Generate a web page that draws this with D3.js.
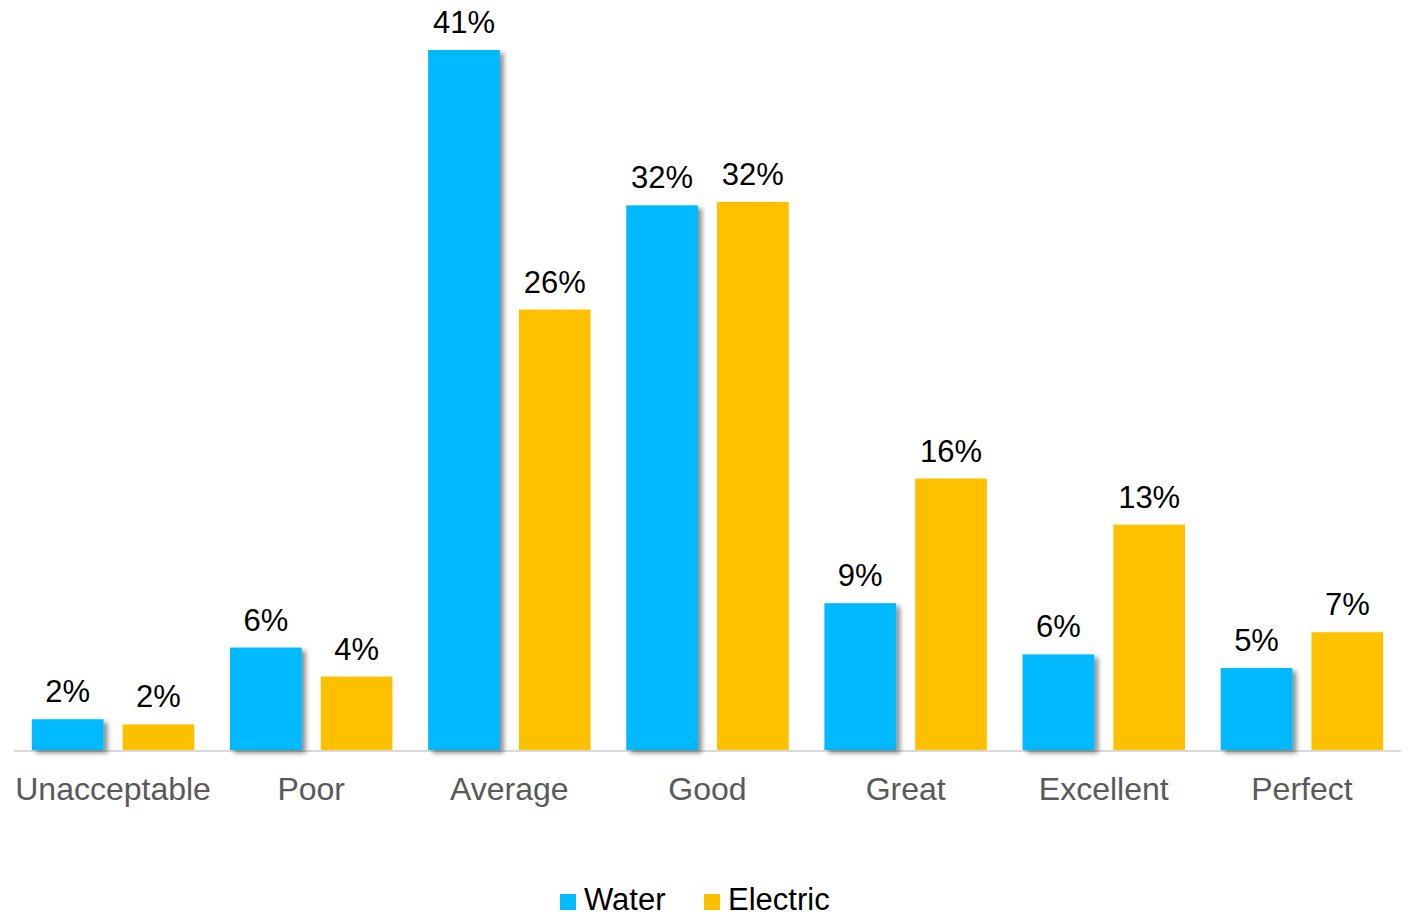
<!DOCTYPE html>
<html>
<head>
<meta charset="utf-8">
<script src="https://cdn.jsdelivr.net/npm/d3@7"></script>
<style>
  body { margin: 0; background: #fff; }
  text { font-family: "Liberation Sans", Arial, sans-serif; }
</style>
</head>
<body>
<div id="chart"></div>
<script>
// data
const categories = ["Unacceptable", "Poor", "Average", "Good", "Great", "Excellent", "Perfect"];
const waterValues = [1.8, 6.0, 41.0, 31.9, 8.6, 5.6, 4.8];
const electricValues = [1.5, 4.3, 25.8, 32.1, 15.9, 13.2, 6.9];
const waterLabels = ["2%", "6%", "41%", "32%", "9%", "6%", "5%"];
const electricLabels = ["2%", "4%", "26%", "32%", "16%", "13%", "7%"];
const seriesNames = ["Water", "Electric"];
const seriesColors = ["#00B9FF", "#FFC000"];

const width = 1411, height = 916;
const margin = {top: 50, right: 10, bottom: 166, left: 14};
const plotW = 1387, plotH = height - margin.top - margin.bottom;

const svg = d3.select("#chart")
  .append("svg")
    .attr("width", width)
    .attr("height", height);

// drop shadow for the water bars
const filter = svg.append("defs").append("filter")
    .attr("id", "shadow")
    .attr("x", "-20%").attr("y", "-20%")
    .attr("width", "150%").attr("height", "150%");
filter.append("feGaussianBlur").attr("in", "SourceAlpha").attr("stdDeviation", 2.5);
filter.append("feOffset").attr("dx", 4).attr("dy", 3).attr("result", "off");
filter.append("feComponentTransfer").append("feFuncA").attr("type", "linear").attr("slope", 0.45);
const merge = filter.append("feMerge");
merge.append("feMergeNode");
merge.append("feMergeNode").attr("in", "SourceGraphic");

const g = svg.append("g")
    .attr("transform", `translate(${margin.left},${margin.top})`);

const x = d3.scaleBand()
  .domain(categories)
  .range([0, plotW])
  .paddingInner(0.18)
  .paddingOuter(0.09);

const x1 = d3.scaleBand()
  .domain(seriesNames)
  .range([0, x.bandwidth()])
  .paddingInner(0.21);

const y = d3.scaleLinear()
  .domain([0, 41.0])
  .range([plotH, 0]);

const data = categories.map((c, i) => ({
  cat: c,
  vals: [
    {name: "Water", v: waterValues[i], label: waterLabels[i]},
    {name: "Electric", v: electricValues[i], label: electricLabels[i]}
  ]
}));

// baseline
g.append("line")
  .attr("x1", 0).attr("x2", plotW)
  .attr("y1", y(0) + 1).attr("y2", y(0) + 1)
  .attr("stroke", "#d9d9d9")
  .attr("stroke-width", 2);

const groups = g.selectAll(".cat")
  .data(data)
  .join("g")
    .attr("class", "cat")
    .attr("transform", d => `translate(${x(d.cat)},0)`);

groups.selectAll("rect")
  .data(d => d.vals)
  .join("rect")
    .attr("x", d => x1(d.name))
    .attr("width", x1.bandwidth())
    .attr("y", d => y(d.v))
    .attr("height", d => y(0) - y(d.v))
    .attr("fill", (d, i) => seriesColors[i])
    .attr("filter", d => d.name === "Water" ? "url(#shadow)" : null);

groups.selectAll(".val")
  .data(d => d.vals)
  .join("text")
    .attr("class", "val")
    .attr("x", d => x1(d.name) + x1.bandwidth() / 2)
    .attr("y", d => y(d.v) - 17)
    .attr("text-anchor", "middle")
    .attr("font-size", 31)
    .attr("fill", "#000")
    .text(d => d.label);

// category axis labels
g.append("g")
  .attr("transform", `translate(0,${plotH})`)
  .call(d3.axisBottom(x).tickSize(0).tickPadding(27))
  .call(ax => ax.select(".domain").remove())
  .selectAll("text")
    .attr("font-size", 32)
    .attr("fill", "#595959")
    .style("font-family", "'Liberation Sans', Arial, sans-serif");

// legend
const legendItems = [
  {name: "Water", x: 560, color: seriesColors[0]},
  {name: "Electric", x: 704, color: seriesColors[1]}
];
const legend = svg.append("g");
legend.selectAll("rect")
  .data(legendItems)
  .join("rect")
    .attr("x", d => d.x)
    .attr("y", 894)
    .attr("width", 16)
    .attr("height", 16)
    .attr("fill", d => d.color);
legend.selectAll("text")
  .data(legendItems)
  .join("text")
    .attr("x", d => d.x + 24)
    .attr("y", 910)
    .attr("font-size", 31)
    .attr("fill", "#000")
    .text(d => d.name);
</script>
</body>
</html>
